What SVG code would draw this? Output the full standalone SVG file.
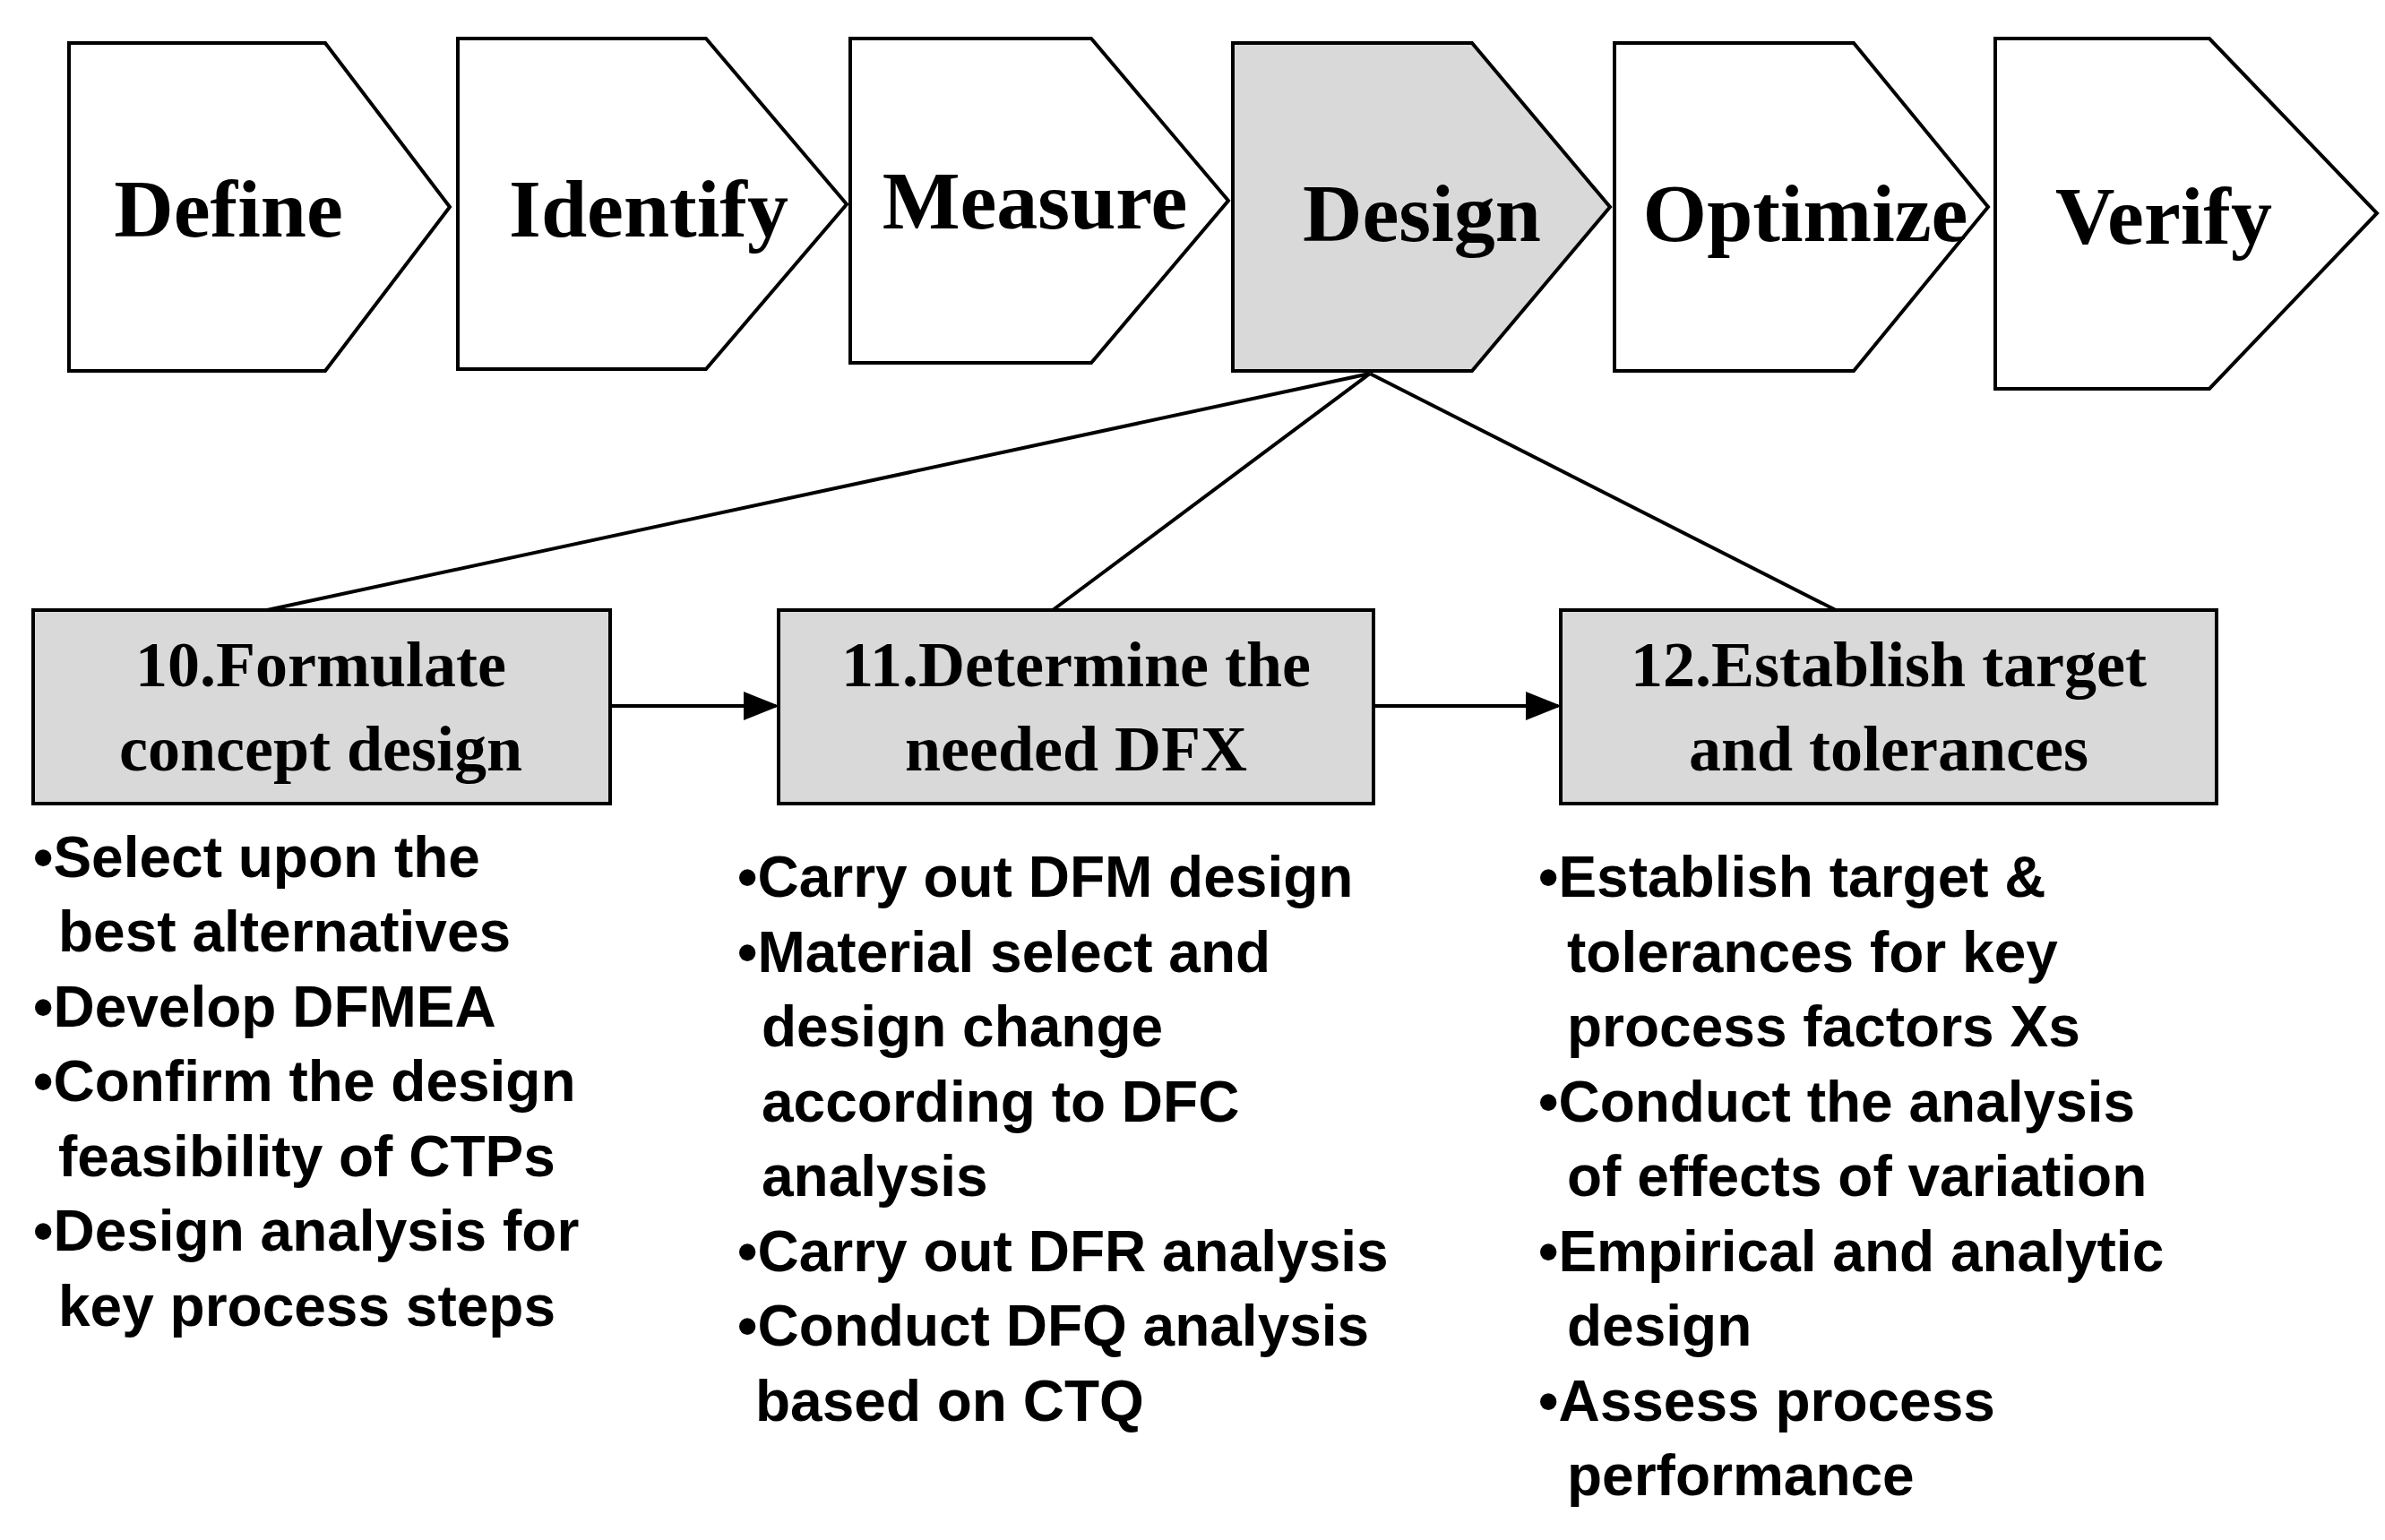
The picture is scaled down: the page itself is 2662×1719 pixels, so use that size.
<svg xmlns="http://www.w3.org/2000/svg" width="2662" height="1719" viewBox="0 0 2662 1719">
<defs>
<style>
.ch{fill:#fff;stroke:#000;stroke-width:4}
.bx{fill:#d9d9d9;stroke:#000;stroke-width:4}
.h{font-family:"Liberation Serif",serif;font-weight:bold;font-size:92px;text-anchor:middle}
.b{font-family:"Liberation Serif",serif;font-weight:bold;font-size:72px;text-anchor:middle}
.t{font-family:"Liberation Sans",sans-serif;font-weight:bold;font-size:64px}
.c{stroke:#000;stroke-width:4;fill:none}
</style>
<marker id="a" markerWidth="10" markerHeight="8" refX="9" refY="4" orient="auto" markerUnits="strokeWidth"><path d="M0,0L10,4L0,8z"/></marker>
</defs>
<rect width="2662" height="1719" fill="#fff"/>
<g id="define"><path class="ch" d="M77,48H363L502,231L363,414H77z"/><text class="h" x="255" y="264">Define</text></g>
<g id="identify"><path class="ch" d="M511,43H788L945,228L788,412H511z"/><text class="h" x="724" y="264">Identify</text></g>
<g id="measure"><path class="ch" d="M949,43H1218L1371,224L1218,405H949z"/><text class="h" x="1155" y="255">Measure</text></g>
<g id="design"><path class="ch" d="M1376,48H1643L1797,231L1643,414H1376z" style="fill:#d9d9d9"/><text class="h" x="1587" y="269">Design</text></g>
<g id="optimize"><path class="ch" d="M1802,48H2069L2219,231L2069,414H1802z"/><text class="h" x="2015" y="269">Optimize</text></g>
<g id="verify"><path class="ch" d="M2227,43H2466L2653,238L2466,434H2227z"/><text class="h" x="2415" y="272">Verify</text></g>
<g id="connectors">
<path class="c" d="M1529,417L298,681M1529,417L1175,681M1529,417L2049,681"/>
<path class="c" d="M681,788H866" marker-end="url(#a)"/>
<path class="c" d="M1533,788H1739" marker-end="url(#a)"/>
</g>
<g id="step10"><rect class="bx" x="37" y="681" width="644" height="216"/><text class="b" x="358" y="766">10.Formulate</text><text class="b" x="358" y="860">concept design</text>
<g class="t"><text x="37" y="979">•Select upon the</text><text x="65" y="1062">best alternatives</text><text x="37" y="1146">•Develop DFMEA</text><text x="37" y="1229">•Confirm the design</text><text x="65" y="1313">feasibility of CTPs</text><text x="37" y="1396">•Design analysis for</text><text x="65" y="1480">key process steps</text></g></g>
<g id="step11"><rect class="bx" x="869" y="681" width="664" height="216"/><text class="b" x="1201" y="766">11.Determine the</text><text class="b" x="1201" y="860">needed DFX</text>
<g class="t"><text x="823" y="1001">•Carry out DFM design</text><text x="823" y="1085">•Material select and</text><text x="850" y="1168">design change</text><text x="850" y="1252">according to DFC</text><text x="850" y="1335">analysis</text><text x="823" y="1419">•Carry out DFR analysis</text><text x="823" y="1502">•Conduct DFQ analysis</text><text x="843" y="1586">based on CTQ</text></g></g>
<g id="step12"><rect class="bx" x="1742" y="681" width="732" height="216"/><text class="b" x="2108" y="766">12.Establish target</text><text class="b" x="2108" y="860">and tolerances</text>
<g class="t"><text x="1717" y="1001">•Establish target &amp;</text><text x="1749" y="1085">tolerances for key</text><text x="1749" y="1168">process factors Xs</text><text x="1717" y="1252">•Conduct the analysis</text><text x="1749" y="1335">of effects of variation</text><text x="1717" y="1419">•Empirical and analytic</text><text x="1749" y="1502">design</text><text x="1717" y="1586">•Assess process</text><text x="1749" y="1669">performance</text></g></g>
</svg>
